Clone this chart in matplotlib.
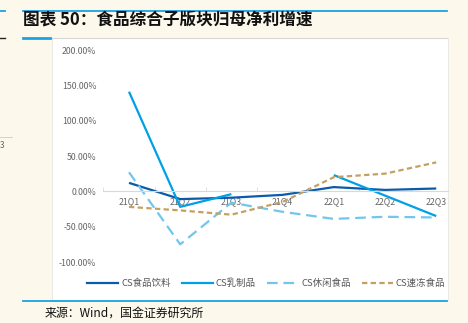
import matplotlib
matplotlib.use('Agg')
import matplotlib.pyplot as plt
from matplotlib.lines import Line2D
from matplotlib.patches import Rectangle
import numpy as np

plt.rcParams['font.family'] = ['Noto Sans CJK SC', 'DejaVu Sans']

W, H = 468, 323
BG = '#fcf8ec'

quarters = ['21Q1', '21Q2', '21Q3', '21Q4', '22Q1', '22Q2', '22Q3']
food_bev = [12, -11, -9, -5, 6, 2, 4]
dairy = [141, -22, -4, np.nan, 23, -6, -35]
snacks = [27, -75, -16, -29, -39, -36, -37]
frozen = [-22, -27, -33, -15, 20, 25, 41]
yticks = [-100, -50, 0, 50, 100, 150, 200]

series = [
    ('CS食品饮料', food_bev, '#0a5cab', None),
    ('CS乳制品', dairy, '#009fe6', None),
    ('CS休闲食品', snacks, '#72c6ee', (4.8, 2.6)),
    ('CS速冻食品', frozen, '#c4a062', (2.4, 1.5)),
]


def px(x, y):
    # pixel position -> figure fraction
    return x / W, 1 - y / H


fig = plt.figure(figsize=(W / 100, H / 100), dpi=100)
fig.patch.set_facecolor(BG)

# white chart panel
fig.add_artist(Rectangle(px(52, 300), 396 / W, 262 / H, transform=fig.transFigure,
                         facecolor='white', edgecolor='#e6e6e6', lw=0.6, zorder=0))

# header / footer rules
def hline(x0, x1, y, color, lw):
    fig.add_artist(Line2D([x0 / W, x1 / W], [1 - y / H] * 2, transform=fig.transFigure,
                          color=color, lw=lw))

hline(23, 447, 11, '#1aa3e2', 1.3)
hline(50, 447, 37.5, '#d6d6d6', 0.8)
hline(23, 50, 37.5, '#1aa3e2', 2.0)
hline(23, 447, 301, '#1aa3e2', 1.3)
hline(0, 5, 11, '#1aa3e2', 1.3)
hline(0, 5, 37.5, '#222222', 1.0)
hline(0, 12, 137, '#cccccc', 0.6)
fig.text(0, 1 - 146 / H, '3', fontsize=6, color='#666666', va='center', ha='left')

fig.text(23 / W, 1 - 20 / H, '图表 50：食品综合子版块归母净利增速', fontsize=12,
         fontweight='bold', style='italic', color='#111111', va='center', ha='left')
fig.text(45 / W, 1 - 313 / H, '来源：Wind，国金证券研究所', fontsize=8.6,
         color='#111111', va='center', ha='left')

# plot axes
l, b = px(103.4, 262)
ax = fig.add_axes([l, b, (448 - 103.4) / W, 212 / H])
ax.set_facecolor('none')
x = np.arange(len(quarters))
for name, vals, color, dash in series:
    line, = ax.plot(x, vals, color=color, lw=1.6, solid_capstyle='butt')
    if dash:
        line.set_dashes(dash)

ax.set_yticks(yticks)
ax.set_yticklabels([f'{v:.2f}%' for v in yticks])
ax.set_xticks(x)
ax.set_xticklabels(quarters)
ax.set_xticks(np.arange(-0.5, 7, 1), minor=True)
ax.set_xlim(-0.5, 6.23)
ax.set_ylim(-100, 200)
ax.tick_params(axis='y', length=0, pad=5, labelsize=6.3, labelcolor='#666666')
ax.tick_params(axis='x', which='major', length=0, pad=4, labelsize=6.3, labelcolor='#666666')
ax.tick_params(axis='x', which='minor', direction='in', length=3, color='#d9d9d9', width=0.6)
for s in ['top', 'right', 'left']:
    ax.spines[s].set_visible(False)
ax.spines['bottom'].set_position(('data', 0))
ax.spines['bottom'].set_color('#d9d9d9')
ax.spines['bottom'].set_linewidth(0.8)
ax.set_axisbelow(True)

# legend drawn by hand
leg_x = [87, 182, 267, 362]
for (name, vals, color, dash), lx in zip(series, leg_x):
    ln = Line2D([lx / W, (lx + 31) / W], [1 - 283 / H] * 2, transform=fig.transFigure,
                color=color, lw=1.6)
    if dash:
        ln.set_dashes(dash)
    fig.add_artist(ln)
    fig.text((lx + 34) / W, 1 - 283 / H, name, fontsize=6.8, color='#555555',
             va='center', ha='left')

fig.savefig('out.png', dpi=100, facecolor=BG)
